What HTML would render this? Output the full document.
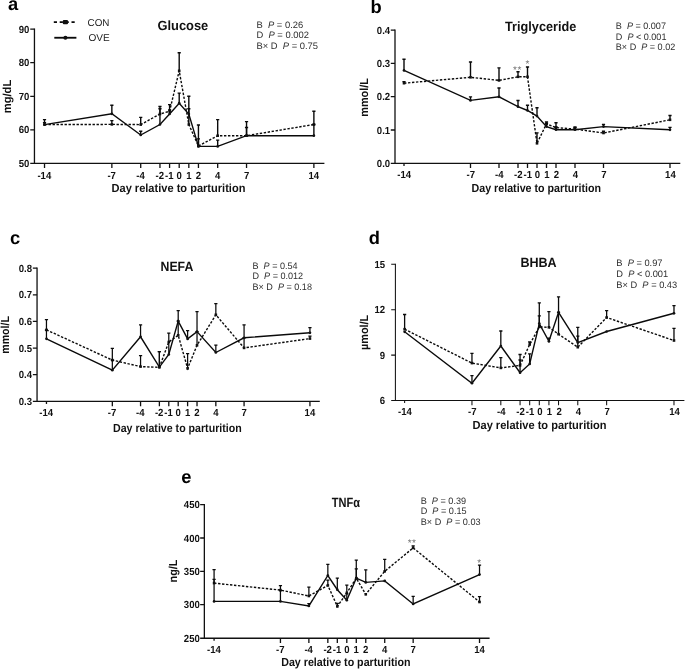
<!DOCTYPE html>
<html lang="en">
<head>
<meta charset="utf-8">
<title>Figure: metabolites relative to parturition</title>
<style>
html,body{margin:0;padding:0;background:#fff;}
body{width:685px;height:670px;overflow:hidden;}
svg{display:block;font-family:'Liberation Sans', Arial, Helvetica, sans-serif;text-rendering:geometricPrecision;}
.pl{font-weight:700;font-size:18.3px;fill:#000;}
.tk{font-weight:700;font-size:10.3px;fill:#111;}
.xl{font-weight:700;font-size:11.8px;fill:#111;}
.yl{font-weight:700;font-size:11.6px;fill:#111;}
.tt{font-weight:700;font-size:13.4px;fill:#111;}
.st{font-size:9.4px;fill:#2e2e2e;white-space:pre;}
.lg{font-size:10px;fill:#222;}
.sr{font-size:10px;fill:#777;letter-spacing:0.5px;}
.ax{fill:none;stroke:#111;stroke-linecap:butt;stroke-linejoin:miter;}
.ln{fill:none;stroke:#0a0a0a;stroke-width:1.4;stroke-linejoin:miter;}
.con{stroke-dasharray:2.4 1.6;}
.eb{fill:none;stroke:#0a0a0a;}
rect,circle{fill:#111;}
</style>
</head>
<body>
<svg width="685" height="670" viewBox="0 0 685 670">
<rect x="0" y="0" width="685" height="670" style="fill:#fff"/>
<g class="panel">
<text class="pl" x="8.1" y="10.2">a</text>
<path class="ax" stroke-width="1.3" d="M34.45 28.45V163.3H324.4"/>
<path class="ax" stroke-width="1.3" d="M30.25 29.1H34.45M30.25 62.7H34.45M30.25 96.3H34.45M30.25 129.8H34.45M30.25 163.3H34.45M44.52 163.3v4.8M111.86 163.3v4.8M140.72 163.3v4.8M159.96 163.3v4.8M169.58 163.3v4.8M179.2 163.3v4.8M188.82 163.3v4.8M198.44 163.3v4.8M217.68 163.3v4.8M246.54 163.3v4.8M313.88 163.3v4.8"/>
<text class="tk" text-anchor="end" transform="translate(29.3 32.7) scale(0.93 1)">90</text>
<text class="tk" text-anchor="end" transform="translate(29.3 66.3) scale(0.93 1)">80</text>
<text class="tk" text-anchor="end" transform="translate(29.3 99.9) scale(0.93 1)">70</text>
<text class="tk" text-anchor="end" transform="translate(29.3 133.4) scale(0.93 1)">60</text>
<text class="tk" text-anchor="end" transform="translate(29.3 166.9) scale(0.93 1)">50</text>
<text class="tk" text-anchor="middle" transform="translate(44.32 178.6) scale(0.93 1)">-14</text>
<text class="tk" text-anchor="middle" transform="translate(111.66 178.6) scale(0.93 1)">-7</text>
<text class="tk" text-anchor="middle" transform="translate(140.52 178.6) scale(0.93 1)">-4</text>
<text class="tk" text-anchor="middle" transform="translate(159.76 178.6) scale(0.93 1)">-2</text>
<text class="tk" text-anchor="middle" transform="translate(169.38 178.6) scale(0.93 1)">-1</text>
<text class="tk" text-anchor="middle" transform="translate(179.2 178.6) scale(0.93 1)">0</text>
<text class="tk" text-anchor="middle" transform="translate(188.82 178.6) scale(0.93 1)">1</text>
<text class="tk" text-anchor="middle" transform="translate(198.44 178.6) scale(0.93 1)">2</text>
<text class="tk" text-anchor="middle" transform="translate(217.68 178.6) scale(0.93 1)">4</text>
<text class="tk" text-anchor="middle" transform="translate(246.54 178.6) scale(0.93 1)">7</text>
<text class="tk" text-anchor="middle" transform="translate(313.88 178.6) scale(0.93 1)">14</text>
<text class="xl" x="111.5" y="192.3" textLength="133.9" lengthAdjust="spacingAndGlyphs">Day relative to parturition</text>
<text class="yl" transform="translate(10.8 113.3) rotate(-90)" textLength="33.6" lengthAdjust="spacingAndGlyphs">mg/dL</text>
<text class="tt" x="157.4" y="29.6" textLength="50.9" lengthAdjust="spacingAndGlyphs">Glucose</text>
<text class="st" transform="translate(256.5 27.8) scale(1 1)" xml:space="preserve">B  <tspan font-style="italic">P</tspan> = 0.26</text>
<text class="st" transform="translate(256.5 38.4) scale(1 1)" xml:space="preserve">D  <tspan font-style="italic">P</tspan> = 0.002</text>
<text class="st" transform="translate(256.5 49) scale(1 1)" xml:space="preserve">B× D  <tspan font-style="italic">P</tspan> = 0.75</text>
<path class="eb" stroke-width="1.4" d="M44.52 124.6V119.6M42.92 119.6h3.2M111.86 124.4V120.6M110.26 120.6h3.2M140.72 124.6V117.4M139.12 117.4h3.2M159.96 114V106.5M158.36 106.5h3.2M169.58 111.3V104.6M167.98 104.6h3.2M179.2 70.8V52.8M177.6 52.8h3.2M188.82 124.5V108.8M187.22 108.8h3.2M198.44 146V125M196.84 125h3.2M217.68 135.7V119.6M216.08 119.6h3.2M246.54 135.7V121.6M244.94 121.6h3.2M313.88 124.5V111.2M312.28 111.2h3.2"/>
<path class="ln con" d="M44.52 124.6L111.86 124.4L140.72 124.6L159.96 114L169.58 111.3L179.2 70.8L188.82 124.5L198.44 146L217.68 135.7L246.54 135.7L313.88 124.5"/>
<rect x="43.22" y="123.3" width="2.6" height="2.6"/>
<rect x="110.56" y="123.1" width="2.6" height="2.6"/>
<rect x="139.42" y="123.3" width="2.6" height="2.6"/>
<rect x="158.66" y="112.7" width="2.6" height="2.6"/>
<rect x="168.28" y="110" width="2.6" height="2.6"/>
<rect x="177.9" y="69.5" width="2.6" height="2.6"/>
<rect x="187.52" y="123.2" width="2.6" height="2.6"/>
<rect x="197.14" y="144.7" width="2.6" height="2.6"/>
<rect x="216.38" y="134.4" width="2.6" height="2.6"/>
<rect x="245.24" y="134.4" width="2.6" height="2.6"/>
<rect x="312.58" y="123.2" width="2.6" height="2.6"/>
<path class="eb" stroke-width="1.4" d="M44.52 124.6V122.6M42.92 122.6h3.2M111.86 113.8V105.3M110.26 105.3h3.2M140.72 135V131.2M139.12 131.2h3.2M159.96 124.5V108.8M158.36 108.8h3.2M169.58 114V109.9M167.98 109.9h3.2M179.2 103.2V93.1M177.6 93.1h3.2M188.82 114V96.3M187.22 96.3h3.2M198.44 146.4V138.9M196.84 138.9h3.2M217.68 146.4V140.1M216.08 140.1h3.2M246.54 135.7V127.5M244.94 127.5h3.2M313.88 135.7V124.5M312.28 124.5h3.2"/>
<path class="ln ove" d="M44.52 124.6L111.86 113.8L140.72 135L159.96 124.5L169.58 114L179.2 103.2L188.82 114L198.44 146.4L217.68 146.4L246.54 135.7L313.88 135.7"/>
<circle cx="44.52" cy="124.6" r="1.35"/>
<circle cx="111.86" cy="113.8" r="1.35"/>
<circle cx="140.72" cy="135" r="1.35"/>
<circle cx="159.96" cy="124.5" r="1.35"/>
<circle cx="169.58" cy="114" r="1.35"/>
<circle cx="179.2" cy="103.2" r="1.35"/>
<circle cx="188.82" cy="114" r="1.35"/>
<circle cx="198.44" cy="146.4" r="1.35"/>
<circle cx="217.68" cy="146.4" r="1.35"/>
<circle cx="246.54" cy="135.7" r="1.35"/>
<circle cx="313.88" cy="135.7" r="1.35"/>
<path class="ln" style="stroke-width:1.85;stroke-dasharray:3.2 2.7" d="M53.8 22.05H75"/><rect x="62.8" y="19.9" width="5.2" height="4.3" rx="1"/>
<path class="ln" style="stroke-width:1.85" d="M54.3 37.75H76.4"/><circle cx="65.4" cy="37.75" r="2.05"/>
<text class="lg" x="87.6" y="25.6" textLength="21.9" lengthAdjust="spacingAndGlyphs">CON</text>
<text class="lg" x="88.4" y="41.4" textLength="21.3" lengthAdjust="spacingAndGlyphs">OVE</text>
</g>
<g class="panel">
<text class="pl" x="370.5" y="13.4">b</text>
<path class="ax" stroke-width="1.3" d="M395 29.45V163.3H680.3"/>
<path class="ax" stroke-width="1.3" d="M390.8 30.1H395M390.8 63.4H395M390.8 96.7H395M390.8 130H395M390.8 163.3H395M404 163.3v2.6M470.5 163.3v4.8M499 163.3v4.8M518 163.3v4.8M527.5 163.3v4.8M537 163.3v4.8M546.5 163.3v4.8M556 163.3v4.8M575 163.3v4.8M603.5 163.3v4.8M670 163.3v4.8"/>
<text class="tk" text-anchor="end" transform="translate(390.2 33.7) scale(0.93 1)">0.4</text>
<text class="tk" text-anchor="end" transform="translate(390.2 67) scale(0.93 1)">0.3</text>
<text class="tk" text-anchor="end" transform="translate(390.2 100.3) scale(0.93 1)">0.2</text>
<text class="tk" text-anchor="end" transform="translate(390.2 133.6) scale(0.93 1)">0.1</text>
<text class="tk" text-anchor="end" transform="translate(390.2 166.9) scale(0.93 1)">0.0</text>
<text class="tk" text-anchor="middle" transform="translate(404.2 177.9) scale(0.93 1)">-14</text>
<text class="tk" text-anchor="middle" transform="translate(470.7 177.9) scale(0.93 1)">-7</text>
<text class="tk" text-anchor="middle" transform="translate(499.2 177.9) scale(0.93 1)">-4</text>
<text class="tk" text-anchor="middle" transform="translate(518.2 177.9) scale(0.93 1)">-2</text>
<text class="tk" text-anchor="middle" transform="translate(527.7 177.9) scale(0.93 1)">-1</text>
<text class="tk" text-anchor="middle" transform="translate(537.4 177.9) scale(0.93 1)">0</text>
<text class="tk" text-anchor="middle" transform="translate(546.9 177.9) scale(0.93 1)">1</text>
<text class="tk" text-anchor="middle" transform="translate(556.4 177.9) scale(0.93 1)">2</text>
<text class="tk" text-anchor="middle" transform="translate(575.4 177.9) scale(0.93 1)">4</text>
<text class="tk" text-anchor="middle" transform="translate(603.9 177.9) scale(0.93 1)">7</text>
<text class="tk" text-anchor="middle" transform="translate(670.4 177.9) scale(0.93 1)">14</text>
<text class="xl" x="471.5" y="191.8" textLength="129.5" lengthAdjust="spacingAndGlyphs">Day relative to parturition</text>
<text class="yl" transform="translate(368.1 116.8) rotate(-90)" textLength="38.8" lengthAdjust="spacingAndGlyphs">mmol/L</text>
<text class="tt" x="505" y="31.2" textLength="71.3" lengthAdjust="spacingAndGlyphs">Triglyceride</text>
<text class="st" transform="translate(615.8 28.85) scale(0.966 1)" xml:space="preserve">B  <tspan font-style="italic">P</tspan> = 0.007</text>
<text class="st" transform="translate(615.8 39.55) scale(0.966 1)" xml:space="preserve">D  <tspan font-style="italic">P</tspan> &lt; 0.001</text>
<text class="st" transform="translate(615.8 50.25) scale(0.966 1)" xml:space="preserve">B× D  <tspan font-style="italic">P</tspan> = 0.02</text>
<path class="eb" stroke-width="1.4" d="M404 83.2V81.6M402.4 81.6h3.2M470.5 77.3V62M468.9 62h3.2M499 80.4V67.9M497.4 67.9h3.2M518 76.8V71.8M516.4 71.8h3.2M527.5 76.8V67M525.9 67h3.2M537 143.3V132.9M535.4 132.9h3.2M546.5 123.9V122M544.9 122h3.2M556 127.6V122.8M554.4 122.8h3.2M575 129.1V127M573.4 127h3.2M603.5 133V131.2M601.9 131.2h3.2M670 119.8V115.5M668.4 115.5h3.2"/>
<path class="ln con" d="M404 83.2L470.5 77.3L499 80.4L518 76.8L527.5 76.8L537 143.3L546.5 123.9L556 127.6L575 129.1L603.5 133L670 119.8"/>
<rect x="402.7" y="81.9" width="2.6" height="2.6"/>
<rect x="469.2" y="76" width="2.6" height="2.6"/>
<rect x="497.7" y="79.1" width="2.6" height="2.6"/>
<rect x="516.7" y="75.5" width="2.6" height="2.6"/>
<rect x="526.2" y="75.5" width="2.6" height="2.6"/>
<rect x="535.7" y="142" width="2.6" height="2.6"/>
<rect x="545.2" y="122.6" width="2.6" height="2.6"/>
<rect x="554.7" y="126.3" width="2.6" height="2.6"/>
<rect x="573.7" y="127.8" width="2.6" height="2.6"/>
<rect x="602.2" y="131.7" width="2.6" height="2.6"/>
<rect x="668.7" y="118.5" width="2.6" height="2.6"/>
<path class="eb" stroke-width="1.4" d="M404 70.4V59.3M402.4 59.3h3.2M470.5 100.4V96.9M468.9 96.9h3.2M499 96.8V88M497.4 88h3.2M518 106.7V100.5M516.4 100.5h3.2M527.5 110.5V105.3M525.9 105.3h3.2M537 116.1V107.8M535.4 107.8h3.2M546.5 126.6V123.4M544.9 123.4h3.2M556 129.7V127M554.4 127h3.2M575 129.7V127.6M573.4 127.6h3.2M603.5 126.6V124.5M601.9 124.5h3.2M670 129.8V127.4M668.4 127.4h3.2"/>
<path class="ln ove" d="M404 70.4L470.5 100.4L499 96.8L518 106.7L527.5 110.5L537 116.1L546.5 126.6L556 129.7L575 129.7L603.5 126.6L670 129.8"/>
<circle cx="404" cy="70.4" r="1.35"/>
<circle cx="470.5" cy="100.4" r="1.35"/>
<circle cx="499" cy="96.8" r="1.35"/>
<circle cx="518" cy="106.7" r="1.35"/>
<circle cx="527.5" cy="110.5" r="1.35"/>
<circle cx="537" cy="116.1" r="1.35"/>
<circle cx="546.5" cy="126.6" r="1.35"/>
<circle cx="556" cy="129.7" r="1.35"/>
<circle cx="575" cy="129.7" r="1.35"/>
<circle cx="603.5" cy="126.6" r="1.35"/>
<circle cx="670" cy="129.8" r="1.35"/>
<text class="sr" text-anchor="middle" x="517.5" y="72.5">**</text>
<text class="sr" text-anchor="middle" x="527.6" y="67.3">*</text>
</g>
<g class="panel">
<text class="pl" x="10.1" y="244.1">c</text>
<path class="ax" stroke-width="1.3" d="M37.05 267.55V401.35H319.8"/>
<path class="ax" stroke-width="1.3" d="M32.85 268.2H37.05M32.85 294.8H37.05M32.85 321.4H37.05M32.85 348.1H37.05M32.85 374.6H37.05M32.85 401.35H37.05M46.46 401.35v2.6M112.33 401.35v4.8M140.56 401.35v4.8M159.38 401.35v4.8M168.79 401.35v4.8M178.2 401.35v4.8M187.61 401.35v4.8M197.02 401.35v4.8M215.84 401.35v4.8M244.07 401.35v4.8M309.94 401.35v4.8"/>
<text class="tk" text-anchor="end" transform="translate(32.1 271.8) scale(0.93 1)">0.8</text>
<text class="tk" text-anchor="end" transform="translate(32.1 298.4) scale(0.93 1)">0.7</text>
<text class="tk" text-anchor="end" transform="translate(32.1 325) scale(0.93 1)">0.6</text>
<text class="tk" text-anchor="end" transform="translate(32.1 351.7) scale(0.93 1)">0.5</text>
<text class="tk" text-anchor="end" transform="translate(32.1 378.2) scale(0.93 1)">0.4</text>
<text class="tk" text-anchor="end" transform="translate(32.1 404.95) scale(0.93 1)">0.3</text>
<text class="tk" text-anchor="middle" transform="translate(46.26 415.8) scale(0.93 1)">-14</text>
<text class="tk" text-anchor="middle" transform="translate(112.13 415.8) scale(0.93 1)">-7</text>
<text class="tk" text-anchor="middle" transform="translate(140.36 415.8) scale(0.93 1)">-4</text>
<text class="tk" text-anchor="middle" transform="translate(159.18 415.8) scale(0.93 1)">-2</text>
<text class="tk" text-anchor="middle" transform="translate(168.59 415.8) scale(0.93 1)">-1</text>
<text class="tk" text-anchor="middle" transform="translate(178.2 415.8) scale(0.93 1)">0</text>
<text class="tk" text-anchor="middle" transform="translate(187.61 415.8) scale(0.93 1)">1</text>
<text class="tk" text-anchor="middle" transform="translate(197.02 415.8) scale(0.93 1)">2</text>
<text class="tk" text-anchor="middle" transform="translate(215.84 415.8) scale(0.93 1)">4</text>
<text class="tk" text-anchor="middle" transform="translate(244.07 415.8) scale(0.93 1)">7</text>
<text class="tk" text-anchor="middle" transform="translate(309.94 415.8) scale(0.93 1)">14</text>
<text class="xl" x="113" y="431.5" textLength="128.7" lengthAdjust="spacingAndGlyphs">Day relative to parturition</text>
<text class="yl" transform="translate(8.9 353.85) rotate(-90)" textLength="37.9" lengthAdjust="spacingAndGlyphs">mmol/L</text>
<text class="tt" x="160.5" y="271.2" textLength="32.8" lengthAdjust="spacingAndGlyphs">NEFA</text>
<text class="st" transform="translate(252.5 268.6) scale(0.966 1)" xml:space="preserve">B  <tspan font-style="italic">P</tspan> = 0.54</text>
<text class="st" transform="translate(252.5 279.25) scale(0.966 1)" xml:space="preserve">D  <tspan font-style="italic">P</tspan> = 0.012</text>
<text class="st" transform="translate(252.5 289.9) scale(0.966 1)" xml:space="preserve">B× D  <tspan font-style="italic">P</tspan> = 0.18</text>
<path class="eb" stroke-width="1.25" d="M46.46 329.9V319.6M44.86 319.6h3.2M112.33 360.1V348.3M110.73 348.3h3.2M140.56 366.6V355.5M138.96 355.5h3.2M159.38 367.3V351.6M157.78 351.6h3.2M178.2 335.3V321.1M176.6 321.1h3.2M187.61 368.4V353.7M186.01 353.7h3.2M197.02 345.3V331.6M195.42 331.6h3.2M215.84 314.8V303.7M214.24 303.7h3.2M244.07 347.9V337.8M242.47 337.8h3.2M309.94 338.6V336M308.34 336h3.2"/>
<path class="ln con" d="M46.46 329.9L112.33 360.1L140.56 366.6L159.38 367.3L168.79 342L178.2 335.3L187.61 368.4L197.02 345.3L215.84 314.8L244.07 347.9L309.94 338.6"/>
<rect x="45.16" y="328.6" width="2.6" height="2.6"/>
<rect x="111.03" y="358.8" width="2.6" height="2.6"/>
<rect x="139.26" y="365.3" width="2.6" height="2.6"/>
<rect x="158.08" y="366" width="2.6" height="2.6"/>
<rect x="167.49" y="340.7" width="2.6" height="2.6"/>
<rect x="176.9" y="334" width="2.6" height="2.6"/>
<rect x="186.31" y="367.1" width="2.6" height="2.6"/>
<rect x="195.72" y="344" width="2.6" height="2.6"/>
<rect x="214.54" y="313.5" width="2.6" height="2.6"/>
<rect x="242.77" y="346.6" width="2.6" height="2.6"/>
<rect x="308.64" y="337.3" width="2.6" height="2.6"/>
<path class="eb" stroke-width="1.25" d="M46.46 338.8V330M44.86 330h3.2M112.33 370.2V360M110.73 360h3.2M140.56 336.8V324.8M138.96 324.8h3.2M159.38 367.1V351.6M157.78 351.6h3.2M168.79 354.5V333.2M167.19 333.2h3.2M178.2 321.1V310.6M176.6 310.6h3.2M187.61 338.9V330.5M186.01 330.5h3.2M197.02 331.6V311.7M195.42 311.7h3.2M215.84 352.5V345M214.24 345h3.2M244.07 337.8V324.8M242.47 324.8h3.2M309.94 332.8V327.5M308.34 327.5h3.2"/>
<path class="ln ove" d="M46.46 338.8L112.33 370.2L140.56 336.8L159.38 367.1L168.79 354.5L178.2 321.1L187.61 338.9L197.02 331.6L215.84 352.5L244.07 337.8L309.94 332.8"/>
<circle cx="46.46" cy="338.8" r="1.35"/>
<circle cx="112.33" cy="370.2" r="1.35"/>
<circle cx="140.56" cy="336.8" r="1.35"/>
<circle cx="159.38" cy="367.1" r="1.35"/>
<circle cx="168.79" cy="354.5" r="1.35"/>
<circle cx="178.2" cy="321.1" r="1.35"/>
<circle cx="187.61" cy="338.9" r="1.35"/>
<circle cx="197.02" cy="331.6" r="1.35"/>
<circle cx="215.84" cy="352.5" r="1.35"/>
<circle cx="244.07" cy="337.8" r="1.35"/>
<circle cx="309.94" cy="332.8" r="1.35"/>
</g>
<g class="panel">
<text class="pl" x="368.8" y="244.2">d</text>
<path class="ax" stroke-width="1.05" d="M395.4 263.78V400.45H684.4"/>
<path class="ax" stroke-width="1.05" d="M391.2 264.3H395.4M391.2 309.7H395.4M391.2 355.1H395.4M391.2 400.45H395.4M404.62 400.45v2.6M471.96 400.45v4.8M500.82 400.45v4.8M520.06 400.45v4.8M529.68 400.45v4.8M539.3 400.45v4.8M548.92 400.45v4.8M558.54 400.45v4.8M577.78 400.45v4.8M606.64 400.45v4.8M673.98 400.45v4.8"/>
<text class="tk" text-anchor="end" transform="translate(385.2 267.9) scale(0.93 1)">15</text>
<text class="tk" text-anchor="end" transform="translate(385.2 313.3) scale(0.93 1)">12</text>
<text class="tk" text-anchor="end" transform="translate(385.2 358.7) scale(0.93 1)">9</text>
<text class="tk" text-anchor="end" transform="translate(385.2 404.05) scale(0.93 1)">6</text>
<text class="tk" text-anchor="middle" transform="translate(405.02 414.6) scale(0.93 1)">-14</text>
<text class="tk" text-anchor="middle" transform="translate(472.36 414.6) scale(0.93 1)">-7</text>
<text class="tk" text-anchor="middle" transform="translate(501.22 414.6) scale(0.93 1)">-4</text>
<text class="tk" text-anchor="middle" transform="translate(520.46 414.6) scale(0.93 1)">-2</text>
<text class="tk" text-anchor="middle" transform="translate(530.08 414.6) scale(0.93 1)">-1</text>
<text class="tk" text-anchor="middle" transform="translate(539.9 414.6) scale(0.93 1)">0</text>
<text class="tk" text-anchor="middle" transform="translate(549.52 414.6) scale(0.93 1)">1</text>
<text class="tk" text-anchor="middle" transform="translate(559.14 414.6) scale(0.93 1)">2</text>
<text class="tk" text-anchor="middle" transform="translate(578.38 414.6) scale(0.93 1)">4</text>
<text class="tk" text-anchor="middle" transform="translate(607.24 414.6) scale(0.93 1)">7</text>
<text class="tk" text-anchor="middle" transform="translate(674.58 414.6) scale(0.93 1)">14</text>
<text class="xl" x="472.5" y="429" textLength="134" lengthAdjust="spacingAndGlyphs">Day relative to parturition</text>
<text class="yl" transform="translate(368.1 350.05) rotate(-90)" textLength="35.3" lengthAdjust="spacingAndGlyphs">µmol/L</text>
<text class="tt" x="520.4" y="267" textLength="36.3" lengthAdjust="spacingAndGlyphs">BHBA</text>
<text class="st" transform="translate(616.3 265.6) scale(0.99 1)" xml:space="preserve">B  <tspan font-style="italic">P</tspan> = 0.97</text>
<text class="st" transform="translate(616.3 276.8) scale(0.99 1)" xml:space="preserve">D  <tspan font-style="italic">P</tspan> &lt; 0.001</text>
<text class="st" transform="translate(616.3 288) scale(0.99 1)" xml:space="preserve">B× D  <tspan font-style="italic">P</tspan> = 0.43</text>
<path class="eb" stroke-width="1.3" d="M404.62 329.2V314.5M403.02 314.5h3.2M471.96 363.1V353.3M470.36 353.3h3.2M500.82 367.9V357.7M499.22 357.7h3.2M520.06 365.4V354.5M518.46 354.5h3.2M529.68 344.5V342M528.08 342h3.2M539.3 326.9V315.8M537.7 315.8h3.2M548.92 327.3V311.7M547.32 311.7h3.2M558.54 334.2V312.3M556.94 312.3h3.2M577.78 347.2V336.1M576.18 336.1h3.2M606.64 317.5V310.6M605.04 310.6h3.2M673.98 340.5V328.4M672.38 328.4h3.2"/>
<path class="ln con" d="M404.62 329.2L471.96 363.1L500.82 367.9L520.06 365.4L529.68 344.5L539.3 326.9L548.92 327.3L558.54 334.2L577.78 347.2L606.64 317.5L673.98 340.5"/>
<rect x="403.32" y="327.9" width="2.6" height="2.6"/>
<rect x="470.66" y="361.8" width="2.6" height="2.6"/>
<rect x="499.52" y="366.6" width="2.6" height="2.6"/>
<rect x="518.76" y="364.1" width="2.6" height="2.6"/>
<rect x="528.38" y="343.2" width="2.6" height="2.6"/>
<rect x="538" y="325.6" width="2.6" height="2.6"/>
<rect x="547.62" y="326" width="2.6" height="2.6"/>
<rect x="557.24" y="332.9" width="2.6" height="2.6"/>
<rect x="576.48" y="345.9" width="2.6" height="2.6"/>
<rect x="605.34" y="316.2" width="2.6" height="2.6"/>
<rect x="672.68" y="339.2" width="2.6" height="2.6"/>
<path class="eb" stroke-width="1.3" d="M471.96 383.2V375.7M470.36 375.7h3.2M500.82 346V331M499.22 331h3.2M520.06 372.7V360M518.46 360h3.2M529.68 363.9V353.9M528.08 353.9h3.2M539.3 323.6V302.9M537.7 302.9h3.2M548.92 341.3V338.2M547.32 338.2h3.2M558.54 312.3V296.8M556.94 296.8h3.2M577.78 342.6V327.3M576.18 327.3h3.2M673.98 313.3V305.6M672.38 305.6h3.2"/>
<path class="ln ove" d="M404.62 331.8L471.96 383.2L500.82 346L520.06 372.7L529.68 363.9L539.3 323.6L548.92 341.3L558.54 312.3L577.78 342.6L606.64 331.5L673.98 313.3"/>
<circle cx="404.62" cy="331.8" r="1.35"/>
<circle cx="471.96" cy="383.2" r="1.35"/>
<circle cx="500.82" cy="346" r="1.35"/>
<circle cx="520.06" cy="372.7" r="1.35"/>
<circle cx="529.68" cy="363.9" r="1.35"/>
<circle cx="539.3" cy="323.6" r="1.35"/>
<circle cx="548.92" cy="341.3" r="1.35"/>
<circle cx="558.54" cy="312.3" r="1.35"/>
<circle cx="577.78" cy="342.6" r="1.35"/>
<circle cx="606.64" cy="331.5" r="1.35"/>
<circle cx="673.98" cy="313.3" r="1.35"/>
</g>
<g class="panel">
<text class="pl" x="181.3" y="482.5">e</text>
<path class="ax" stroke-width="1.3" d="M204.35 504.05V638.25H489.6"/>
<path class="ax" stroke-width="1.3" d="M200.15 504.7H204.35M200.15 538H204.35M200.15 571.3H204.35M200.15 604.7H204.35M200.15 638.25H204.35M214.08 638.25v2.6M280.44 638.25v4.8M308.88 638.25v4.8M327.84 638.25v4.8M337.32 638.25v4.8M346.8 638.25v4.8M356.28 638.25v4.8M365.76 638.25v4.8M384.72 638.25v4.8M413.16 638.25v4.8M479.52 638.25v4.8"/>
<text class="tk" text-anchor="end" transform="translate(199.8 508.3) scale(0.93 1)">450</text>
<text class="tk" text-anchor="end" transform="translate(199.8 541.6) scale(0.93 1)">400</text>
<text class="tk" text-anchor="end" transform="translate(199.8 574.9) scale(0.93 1)">350</text>
<text class="tk" text-anchor="end" transform="translate(199.8 608.3) scale(0.93 1)">300</text>
<text class="tk" text-anchor="end" transform="translate(199.8 641.85) scale(0.93 1)">250</text>
<text class="tk" text-anchor="middle" transform="translate(213.88 652.7) scale(0.93 1)">-14</text>
<text class="tk" text-anchor="middle" transform="translate(280.24 652.7) scale(0.93 1)">-7</text>
<text class="tk" text-anchor="middle" transform="translate(308.68 652.7) scale(0.93 1)">-4</text>
<text class="tk" text-anchor="middle" transform="translate(327.64 652.7) scale(0.93 1)">-2</text>
<text class="tk" text-anchor="middle" transform="translate(337.12 652.7) scale(0.93 1)">-1</text>
<text class="tk" text-anchor="middle" transform="translate(346.8 652.7) scale(0.93 1)">0</text>
<text class="tk" text-anchor="middle" transform="translate(356.28 652.7) scale(0.93 1)">1</text>
<text class="tk" text-anchor="middle" transform="translate(365.76 652.7) scale(0.93 1)">2</text>
<text class="tk" text-anchor="middle" transform="translate(384.72 652.7) scale(0.93 1)">4</text>
<text class="tk" text-anchor="middle" transform="translate(413.16 652.7) scale(0.93 1)">7</text>
<text class="tk" text-anchor="middle" transform="translate(479.52 652.7) scale(0.93 1)">14</text>
<text class="xl" x="281.2" y="666" textLength="129.3" lengthAdjust="spacingAndGlyphs">Day relative to parturition</text>
<text class="yl" transform="translate(177.1 582.45) rotate(-90)" textLength="22.9" lengthAdjust="spacingAndGlyphs">ng/L</text>
<text class="tt" x="331.8" y="506.6" textLength="28.2" lengthAdjust="spacingAndGlyphs">TNFα</text>
<text class="st" transform="translate(420.7 503.8) scale(0.973 1)" xml:space="preserve">B  <tspan font-style="italic">P</tspan> = 0.39</text>
<text class="st" transform="translate(420.7 514.3) scale(0.973 1)" xml:space="preserve">D  <tspan font-style="italic">P</tspan> = 0.15</text>
<text class="st" transform="translate(420.7 524.8) scale(0.973 1)" xml:space="preserve">B× D  <tspan font-style="italic">P</tspan> = 0.03</text>
<path class="eb" stroke-width="1.25" d="M214.08 583.1V569.5M212.48 569.5h3.2M280.44 590.1V585.6M278.84 585.6h3.2M308.88 596V587.2M307.28 587.2h3.2M327.84 585.4V580M326.24 580h3.2M337.32 606.4V603.3M335.72 603.3h3.2M346.8 592.9V585.1M345.2 585.1h3.2M356.28 578.2V568.8M354.68 568.8h3.2M384.72 571.3V559.4M383.12 559.4h3.2M413.16 547.9V545.8M411.56 545.8h3.2M479.52 602V596.6M477.92 596.6h3.2"/>
<path class="ln con" d="M214.08 583.1L280.44 590.1L308.88 596L327.84 585.4L337.32 606.4L346.8 592.9L356.28 578.2L365.76 594.3L384.72 571.3L413.16 547.9L479.52 602"/>
<rect x="212.78" y="581.8" width="2.6" height="2.6"/>
<rect x="279.14" y="588.8" width="2.6" height="2.6"/>
<rect x="307.58" y="594.7" width="2.6" height="2.6"/>
<rect x="326.54" y="584.1" width="2.6" height="2.6"/>
<rect x="336.02" y="605.1" width="2.6" height="2.6"/>
<rect x="345.5" y="591.6" width="2.6" height="2.6"/>
<rect x="354.98" y="576.9" width="2.6" height="2.6"/>
<rect x="364.46" y="593" width="2.6" height="2.6"/>
<rect x="383.42" y="570" width="2.6" height="2.6"/>
<rect x="411.86" y="546.6" width="2.6" height="2.6"/>
<rect x="478.22" y="600.7" width="2.6" height="2.6"/>
<path class="eb" stroke-width="1.25" d="M214.08 601.4V579.3M212.48 579.3h3.2M280.44 601.4V590.5M278.84 590.5h3.2M308.88 605.9V603.5M307.28 603.5h3.2M327.84 575.5V564.4M326.24 564.4h3.2M337.32 589.7V578.2M335.72 578.2h3.2M346.8 600.2V593.9M345.2 593.9h3.2M356.28 578.2V560M354.68 560h3.2M365.76 582.4V569.9M364.16 569.9h3.2M413.16 604V596.4M411.56 596.4h3.2M479.52 574.6V565.2M477.92 565.2h3.2"/>
<path class="ln ove" d="M214.08 601.4L280.44 601.4L308.88 605.9L327.84 575.5L337.32 589.7L346.8 600.2L356.28 578.2L365.76 582.4L384.72 580.9L413.16 604L479.52 574.6"/>
<circle cx="214.08" cy="601.4" r="1.35"/>
<circle cx="280.44" cy="601.4" r="1.35"/>
<circle cx="308.88" cy="605.9" r="1.35"/>
<circle cx="327.84" cy="575.5" r="1.35"/>
<circle cx="337.32" cy="589.7" r="1.35"/>
<circle cx="346.8" cy="600.2" r="1.35"/>
<circle cx="356.28" cy="578.2" r="1.35"/>
<circle cx="365.76" cy="582.4" r="1.35"/>
<circle cx="384.72" cy="580.9" r="1.35"/>
<circle cx="413.16" cy="604" r="1.35"/>
<circle cx="479.52" cy="574.6" r="1.35"/>
<text class="sr" text-anchor="middle" x="412.1" y="545.9">**</text>
<text class="sr" text-anchor="middle" x="479.5" y="566.1">*</text>
</g>
</svg>
</body>
</html>
